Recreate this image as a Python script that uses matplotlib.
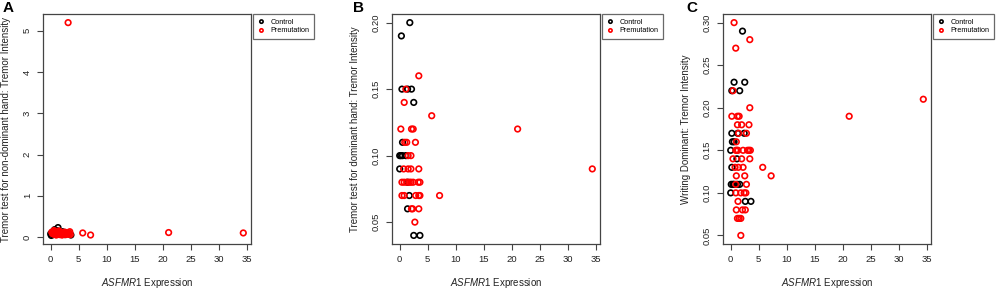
# Three scatter panels: ASFMR1 expression vs tremor measures
import matplotlib.pyplot as plt

plt.rcParams['font.family'] = ['Liberation Sans', 'DejaVu Sans']
plt.rcParams['mathtext.fontset'] = 'custom'
plt.rcParams['mathtext.it'] = 'Liberation Sans:italic'
plt.rcParams['mathtext.rm'] = 'Liberation Sans'

# panel A: non-dominant hand
a_ctrl_x = [0.0, 0.1, 0.2, 0.3, 0.4, 0.5, 0.6, 0.7, 0.8, 1.0, 1.1, 1.2, 1.3, 1.4, 1.6, 1.8, 2.1, 2.5, 2.6, 3.6]
a_ctrl_y = [0.08, 0.04, 0.10, 0.12, 0.06, 0.14, 0.09, 0.18, 0.16, 0.11, 0.07, 0.15, 0.23, 0.12, 0.10, 0.08, 0.13, 0.06, 0.09, 0.05]
a_prem_x = [0.2, 0.3, 0.4, 0.5, 0.6, 0.7, 0.8, 0.9, 1.0, 1.1, 1.2, 1.3, 1.4, 1.5, 1.6, 1.7,
            1.8, 1.9, 2.0, 2.1, 2.2, 2.3, 2.4, 2.5, 2.7, 2.8, 3.0, 3.2, 3.3, 3.4, 3.5,
            1.0, 1.5, 2.0, 0.6, 2.6, 3.1, 5.7, 7.1, 21.0, 34.3]
a_prem_y = [0.12, 0.09, 0.08, 0.14, 0.07, 0.10, 0.11, 0.06, 0.13, 0.08, 0.09, 0.07, 0.12, 0.10, 0.06, 0.08,
            0.11, 0.07, 0.09, 0.06, 0.10, 0.08, 0.07, 0.12, 0.06, 0.09, 0.08, 0.07, 0.10, 0.13, 0.06,
            0.05, 0.15, 0.05, 0.16, 0.11, 5.20, 0.10, 0.05, 0.11, 0.10]

# panel B: dominant hand
b_ctrl_x = [1.8, 0.3, 0.4, 1.4, 2.1, 2.5, 0.5, 0.0, 0.2, 0.5, 1.1, 0.0, 1.4, 1.7, 1.4, 2.5, 3.6]
b_ctrl_y = [0.20, 0.19, 0.15, 0.15, 0.15, 0.14, 0.11, 0.10, 0.10, 0.10, 0.10, 0.09, 0.08, 0.07, 0.06, 0.04, 0.04]
b_prem_x = [3.4, 1.1, 0.8, 5.7, 0.2, 2.1, 2.4, 21.0, 0.9, 1.25, 2.8, 1.5, 2.0,
            0.7, 1.5, 2.0, 3.4, 34.3, 0.4, 0.8, 1.25, 1.7, 2.0, 2.4, 3.3, 3.6,
            0.4, 0.8, 2.85, 3.4, 3.6, 7.1, 2.1, 2.3, 3.4, 2.7]
b_prem_y = [0.16, 0.15, 0.14, 0.13, 0.12, 0.12, 0.12, 0.12, 0.11, 0.11, 0.11, 0.10, 0.10,
            0.09, 0.09, 0.09, 0.09, 0.09, 0.08, 0.08, 0.08, 0.08, 0.08, 0.08, 0.08, 0.08,
            0.07, 0.07, 0.07, 0.07, 0.07, 0.07, 0.06, 0.06, 0.06, 0.05]

# panel C: writing dominant
c_ctrl_x = [2.1, 0.6, 2.5, 0.2, 1.6, 0.2, 1.25, 2.4, 0.3, 0.6, 0.0, 1.1, 0.2, 0.1, 0.4, 0.6, 1.2, 1.6, 0.0, 2.6, 3.6]
c_ctrl_y = [0.29, 0.23, 0.23, 0.22, 0.22, 0.17, 0.17, 0.17, 0.16, 0.16, 0.15, 0.14, 0.13, 0.11, 0.11, 0.11, 0.11, 0.11, 0.10, 0.09, 0.09]
c_prem_x = [0.6, 3.4, 0.9, 0.4, 34.3, 3.4, 0.2, 1.2, 1.5, 21.1, 1.2, 1.95, 3.25,
            1.4, 2.8, 1.0, 0.9, 1.1, 1.3, 2.2, 3.0, 3.25, 3.5, 0.4, 1.95, 3.4,
            0.77, 1.36, 2.2, 5.7, 1.0, 2.5, 7.2, 0.9, 2.8, 0.9, 1.8, 2.4, 2.7,
            1.3, 1.0, 2.1, 2.6, 1.2, 1.5, 1.8, 1.8]
c_prem_y = [0.30, 0.28, 0.27, 0.22, 0.21, 0.20, 0.19, 0.19, 0.19, 0.19, 0.18, 0.18, 0.18,
            0.17, 0.17, 0.16, 0.15, 0.15, 0.15, 0.15, 0.15, 0.15, 0.15, 0.14, 0.14, 0.14,
            0.13, 0.13, 0.13, 0.13, 0.12, 0.12, 0.12, 0.11, 0.11, 0.10, 0.10, 0.10, 0.10,
            0.09, 0.08, 0.08, 0.08, 0.07, 0.07, 0.07, 0.05]

panels = [
    ('A', a_ctrl_x, a_ctrl_y, a_prem_x, a_prem_y, [0, 1, 2, 3, 4, 5], ['0', '1', '2', '3', '4', '5'],
     'Tremor test for non-dominant hand: Tremor Intensity', 0.043, 0.003),
    ('B', b_ctrl_x, b_ctrl_y, b_prem_x, b_prem_y, [0.05, 0.10, 0.15, 0.20], ['0.05', '0.10', '0.15', '0.20'],
     'Tremor test for dominant hand: Tremor Intensity', 0.392, 0.353),
    ('C', c_ctrl_x, c_ctrl_y, c_prem_x, c_prem_y, [0.05, 0.10, 0.15, 0.20, 0.25, 0.30],
     ['0.05', '0.10', '0.15', '0.20', '0.25', '0.30'],
     'Writing Dominant: Tremor Intensity', 0.723, 0.686),
]
xticks = [0, 5, 10, 15, 20, 25, 30, 35]
frame = '#444444'

fig = plt.figure(figsize=(10, 2.88), dpi=100)
for letter, cx, cy, px, py, yt, ytl, ylab, left, letter_x in panels:
    ax = fig.add_axes([left, 0.153, 0.208, 0.798])
    ax.scatter(cx, cy, s=16, facecolors='none', edgecolors='black', linewidths=1.2, label='Control')
    ax.scatter(px, py, s=16, facecolors='none', edgecolors='red', linewidths=1.2, label='Premutation')
    ax.margins(0.04)
    ax.set_xticks(xticks)
    ax.set_xticklabels([str(t) for t in xticks], fontsize=6.8, color='#222222')
    ax.set_yticks(yt)
    ax.set_yticklabels(ytl, fontsize=6.8, rotation=90, va='center', color='#222222')
    ax.tick_params(direction='out', length=4, width=0.8, color=frame, pad=4)
    for sp in ax.spines.values():
        sp.set_color(frame)
        sp.set_linewidth(0.9)
    ax.set_xlabel(r'$\mathit{ASFMR}$1 Expression', fontsize=7, va='baseline', color='#222222')
    ax.xaxis.set_label_coords(0.5, -0.183)
    ax.set_ylabel(ylab, fontsize=7, va='center', color='#222222')
    ax.yaxis.set_label_coords(-0.18, 0.5)
    leg = ax.legend(loc='upper left', bbox_to_anchor=(1.012, 1.0), borderaxespad=0, fontsize=5.2,
                    fancybox=False, edgecolor=frame, handletextpad=0.8, handlelength=1.0,
                    borderpad=0.6, labelspacing=0.25, scatterpoints=1, markerscale=0.6)
    leg.get_frame().set_linewidth(0.9)
    fig.text(letter_x, 0.995, letter, fontsize=11, fontweight='bold', va='top', ha='left')

fig.savefig('out.png', dpi=100)
